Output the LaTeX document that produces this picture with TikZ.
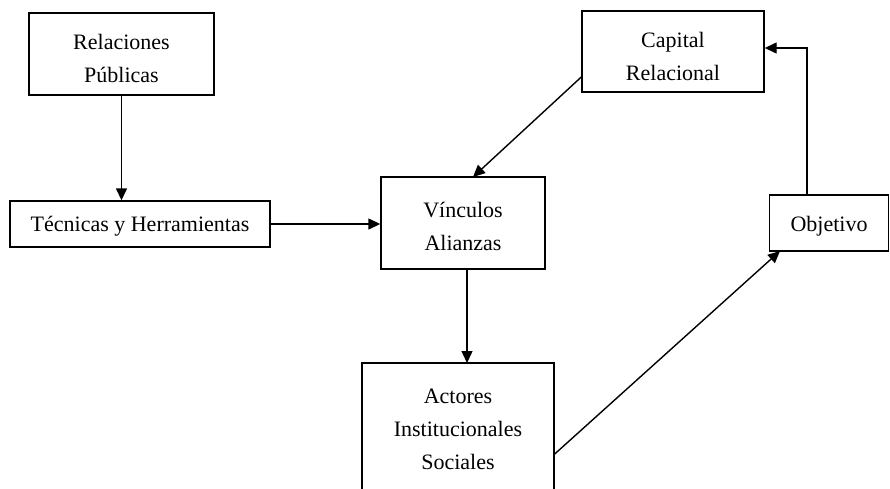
\documentclass[tikz,border=0pt]{standalone}
\usepackage{fontspec}
\setmainfont{Liberation Serif}
\usetikzlibrary{arrows.meta}
\begin{document}
\begin{tikzpicture}[x=1pt,y=1pt,
  box/.style={draw, line width=1.4pt, rectangle, inner sep=0pt},
  txt/.style={align=center, inner sep=0pt, font=\fontsize{22}{33}\selectfont},
  conn/.style={line width=1.4pt, -{Triangle[length=12pt,width=11pt]}}]
\clip (0,0) rectangle (890,-488);
\fill[white] (0,0) rectangle (890,-488);
\node[box, minimum width=185, minimum height=82,
  label={[txt, yshift=-4pt]center:{Relaciones\\Públicas}}] (rp) at (121.5,-54) {};
\node[box, minimum width=260, minimum height=46,
  label={[txt, yshift=-2pt]center:{Técnicas y Herramientas}}] (tec) at (140,-224) {};
\node[box, minimum width=164, minimum height=92,
  label={[txt, yshift=-3pt]center:{Vínculos\\Alianzas}}] (vin) at (463,-223) {};
\node[box, minimum width=182, minimum height=81,
  label={[txt, yshift=-5pt]center:{Capital\\Relacional}}] (cap) at (673,-51.5) {};
\node[box, minimum width=119, minimum height=56,
  label={[txt, yshift=-3pt]center:{Objetivo}}] (obj) at (829,-223) {};
\node[box, minimum width=192, minimum height=128,
  label={[txt, yshift=-2pt]center:{Actores\\Institucionales\\Sociales}}] (act) at (458,-427) {};
\coordinate (capout) at (cap.west |- 0,-77);
\coordinate (vinin) at (473,-177);
\coordinate (actout) at (act.east |- 0,-454);
\coordinate (objin) at (780,-251);
\coordinate (objout) at (807,-195);
\coordinate (capin) at (cap.east |- 0,-48);
\coordinate (vinout) at (467,-269);
\coordinate (actin) at (467,-363);
\draw[conn] (rp.south) -- (rp.south |- tec.north);
\draw[conn] (tec.east) -- (tec.east -| vin.west);
\draw[conn] (capout) -- (vinin);
\draw[conn] (vinout) -- (actin);
\draw[conn] (actout) -- (objin);
\draw[conn] (objout) |- (capin);
\end{tikzpicture}
\end{document}
